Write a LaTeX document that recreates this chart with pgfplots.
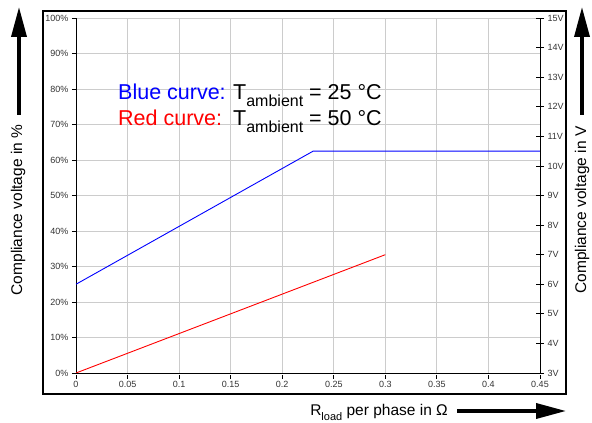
\documentclass[border=0pt]{standalone}
\usepackage{fontspec}
\setmainfont{Liberation Sans}
\usepackage{pgfplots}
\pgfplotsset{compat=1.18}
\usetikzlibrary{arrows.meta}

\pgfplotsset{
  common/.style={
    at={(0,0)}, anchor=south west,
    scale only axis, width=464pt, height=355pt,
    xmin=0, xmax=0.45,
    axis line style={-, black, line width=0.9pt},
    tick style={black, line width=0.8pt},
    /pgf/number format/assume math mode=true,
    ticklabel style={font=\fontsize{9}{10}\selectfont, text=black!80},
  }
}

\begin{document}
\begin{tikzpicture}
\useasboundingbox (-76pt,-50pt) rectangle (516pt,373pt);
\draw[line width=1.5pt] (-33pt,-21pt) rectangle (490pt,362pt);

\begin{axis}[
  common,
  ymin=0, ymax=100,
  axis x line*=bottom, axis y line*=left,
  xtick={0,0.05,...,0.451},
  ytick={0,10,...,100},
  scaled x ticks=false,
  xticklabel style={/pgf/number format/fixed, /pgf/number format/precision=2, yshift=-1pt},
  yticklabel={\pgfmathprintnumber{\tick}\%},
  major tick length=4pt,
  x tick style={yshift=-2pt},
  tick align=outside,
  grid=major,
  major grid style={gray!40, line width=0.8pt},
]
\addplot[blue, line width=0.9pt] coordinates {(0,25) (0.23,62.5) (0.45,62.5)};
\addplot[red, line width=0.9pt] coordinates {(0,0) (0.3,33.33)};
\end{axis}

\begin{axis}[
  common,
  ymin=3, ymax=15,
  axis x line=none, axis y line*=right,
  ytick={3,4,...,15},
  yticklabel={\pgfmathprintnumber{\tick}V},
  tick align=center, major tick length=8pt,
]
\end{axis}

% annotation text
\begin{scope}[every node/.style={anchor=base west, inner sep=0pt, font=\fontsize{21.5}{23}\selectfont}]
\node[text=blue] at (42pt,273pt) {Blue curve:};
\node at (157pt,273pt) {T\raisebox{-0.3em}{\fontsize{16}{16}\selectfont ambient} = 25 °C};
\node[text=red] at (42pt,247pt) {Red curve:};
\node at (157pt,247pt) {T\raisebox{-0.3em}{\fontsize{16}{16}\selectfont ambient} = 50 °C};
\end{scope}

% axis titles with arrows
\node[rotate=90, font=\fontsize{15.5}{16}\selectfont] at (-58pt,163pt) {Compliance voltage in \%};
\draw[line width=3.5pt, -{Triangle[length=30pt,width=15pt]}] (-57pt,258pt) -- (-57pt,366pt);
\node[rotate=90, font=\fontsize{15.5}{16}\selectfont] at (506pt,163pt) {Compliance voltage in V};
\draw[line width=3.5pt, -{Triangle[length=30pt,width=15pt]}] (506pt,258pt) -- (506pt,366pt);
\node[anchor=base east, inner sep=0pt, font=\fontsize{15.5}{16}\selectfont] at (372pt,-43pt)
  {R\raisebox{-0.3em}{\fontsize{11}{11}\selectfont load} per phase in Ω};
\draw[line width=3.5pt, -{Triangle[length=30pt,width=15pt]}] (381pt,-38pt) -- (490pt,-38pt);
\end{tikzpicture}
\end{document}
